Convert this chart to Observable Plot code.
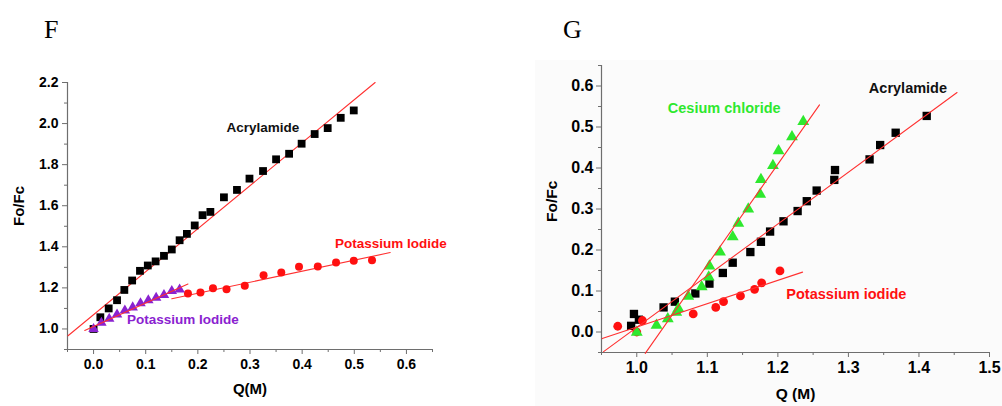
<!DOCTYPE html>
<html>
<head>
<meta charset="utf-8">
<script src="https://cdn.jsdelivr.net/npm/d3@7"></script>
<script src="https://cdn.jsdelivr.net/npm/@observablehq/plot@0.6"></script>
<style>
  html, body { margin: 0; padding: 0; background: #fff; }
  #wrap { position: relative; width: 1002px; height: 406px; overflow: hidden; }
  .panel { position: absolute; top: 0; }
  .tag { position: absolute; font-family: "Liberation Serif", "Times New Roman", serif; font-size: 26px; color: #000; line-height: 1; }
  #bgG { position: absolute; left: 535px; top: 60px; width: 467px; height: 346px; background: #fbfbfb; }
</style>
</head>
<body>
<div id="wrap">
  <div id="bgG"></div>
  <div class="tag" style="left:44px; top:17px;">F</div>
  <div class="tag" style="left:563px; top:17px;">G</div>
</div>
<script>
// ---------- Panel F data ----------
const fAcrylamideQ = [0, 0.013, 0.029, 0.045, 0.059, 0.074, 0.089, 0.104, 0.119, 0.135, 0.15, 0.165, 0.179, 0.194, 0.209, 0.224, 0.25, 0.275, 0.299, 0.325, 0.35, 0.375, 0.399, 0.424, 0.449, 0.474, 0.499];
const fAcrylamideR = [1.0, 1.057, 1.10, 1.14, 1.19, 1.236, 1.283, 1.309, 1.329, 1.356, 1.387, 1.432, 1.463, 1.504, 1.554, 1.57, 1.641, 1.677, 1.732, 1.769, 1.826, 1.853, 1.902, 1.949, 1.978, 2.028, 2.064];
const fKIQ = [0.181, 0.205, 0.229, 0.255, 0.29, 0.326, 0.36, 0.394, 0.43, 0.465, 0.499, 0.534];
const fKIR = [1.173, 1.177, 1.198, 1.193, 1.211, 1.261, 1.275, 1.303, 1.304, 1.324, 1.332, 1.334];
const fKI2Q = [0, 0.015, 0.03, 0.045, 0.06, 0.075, 0.09, 0.105, 0.12, 0.135, 0.15, 0.165];
const fKI2R = [1.0, 1.03, 1.05, 1.07, 1.09, 1.105, 1.125, 1.14, 1.152, 1.165, 1.185, 1.192];
// fitted lines: [startQ, startR, endQ, endR]
const fFitAcrylamide = [-0.049, 0.967, 0.54, 2.2];
const fFitKI = [0.15, 1.147, 0.569, 1.372];
const fFitKI2 = [-0.017, 0.993, 0.181, 1.219];
const fLabels = ["Acrylamide", "Potassium Iodide", "Potassium Iodide"];
const fLabelQ = [0.255, 0.463, 0.064];
const fLabelR = [1.98, 1.414, 1.045];
const fXTicks = [0.0, 0.1, 0.2, 0.3, 0.4, 0.5, 0.6];
const fXMinor = [-0.05, 0.05, 0.15, 0.25, 0.35, 0.45, 0.55, 0.65];
const fYTicks = [1.0, 1.2, 1.4, 1.6, 1.8, 2.0, 2.2];
const fYMinor = [0.9, 1.1, 1.3, 1.5, 1.7, 1.9, 2.1];

// ---------- Panel G data ----------
const gAcrylamideQ = [0.992, 0.996, 1.003, 1.038, 1.054, 1.083, 1.103, 1.122, 1.136, 1.161, 1.176, 1.189, 1.208, 1.228, 1.241, 1.255, 1.28, 1.281, 1.330, 1.345, 1.367, 1.411];
const gAcrylamideR = [0.015, 0.044, 0.03, 0.06, 0.074, 0.094, 0.118, 0.144, 0.169, 0.195, 0.22, 0.245, 0.27, 0.295, 0.319, 0.345, 0.371, 0.395, 0.421, 0.456, 0.486, 0.527];
const gKIQ = [0.973, 1.0, 1.008, 1.080, 1.112, 1.123, 1.147, 1.167, 1.177, 1.203];
const gKIR = [0.014, 0.0, 0.028, 0.044, 0.06, 0.074, 0.088, 0.104, 0.12, 0.149];
const gCsClQ = [1.0, 1.028, 1.044, 1.056, 1.059, 1.073, 1.092, 1.102, 1.103, 1.118, 1.136, 1.144, 1.158, 1.175, 1.176, 1.193, 1.201, 1.22, 1.236];
const gCsClR = [-0.001, 0.016, 0.032, 0.048, 0.057, 0.087, 0.11, 0.134, 0.161, 0.195, 0.232, 0.265, 0.3, 0.336, 0.372, 0.406, 0.442, 0.476, 0.513];
const gFitAcrylamide = [0.953, -0.048, 1.454, 0.584];
const gFitCsCl = [1.012, -0.052, 1.259, 0.554];
const gFitKI = [0.951, -0.016, 1.235, 0.146];
const gLabels = ["Cesium chloride", "Acrylamide", "Potassium iodide"];
const gLabelQ = [1.044, 1.329, 1.212];
const gLabelR = [0.545, 0.595, 0.093];
const gXTicks = [1.0, 1.1, 1.2, 1.3, 1.4, 1.5];
const gXMinor = [0.95, 1.05, 1.15, 1.25, 1.35, 1.45];
const gYTicks = [0.0, 0.1, 0.2, 0.3, 0.4, 0.5, 0.6];
const gYMinor = [-0.05, 0.05, 0.15, 0.25, 0.35, 0.45, 0.55, 0.65];

const AXIS = "#6e6e6e";
const LINE = "#ff3030";
const RED = "#ff1010";
const GREEN = "#2ee82e";
const PURPLE = "#8a22d0";

const pts = (qs, rs) => qs.map((q, i) => ({q, r: rs[i]}));
const seg = (f) => [{q: f[0], r: f[1]}, {q: f[2], r: f[3]}];
const lab = (labels, qs, rs, colors) => labels.map((t, i) => ({t, q: qs[i], r: rs[i], c: colors[i]}));

function panel(o) {
  return Plot.plot({
    width: 501,
    height: 406,
    marginLeft: o.ml, marginRight: o.mr, marginTop: o.mt, marginBottom: o.mb,
    style: {fontFamily: "'Liberation Sans', Arial, sans-serif", fontWeight: "bold", fontSize: o.tickFont + "px", background: "transparent", overflow: "visible"},
    x: {domain: o.xDomain},
    y: {domain: o.yDomain},
    marks: [
      Plot.ruleY([o.yDomain[0]], {stroke: AXIS, strokeWidth: 1.2}),
      Plot.ruleX([o.xDomain[0]], {stroke: AXIS, strokeWidth: 1.2}),
      Plot.axisX({ticks: o.xTicks, tickSize: 5, tickPadding: o.xPad, tickFormat: d3.format(".1f"), stroke: AXIS, fill: "black", label: null}),
      Plot.axisX({ticks: o.xMinor, tickSize: 3, tickFormat: () => "", stroke: AXIS, label: null}),
      Plot.axisY({ticks: o.yTicks, tickSize: 5, tickPadding: o.yPad, tickFormat: d3.format(".1f"), stroke: AXIS, fill: "black", label: null}),
      Plot.axisY({ticks: o.yMinor, tickSize: 3, tickFormat: () => "", stroke: AXIS, label: null}),
      ...o.marks,
      Plot.text([o.xTitle], {frameAnchor: "bottom", dy: o.xTitleDy, fontSize: o.titleFont, fill: "black"}),
      Plot.text([o.yTitle], {frameAnchor: "left", dx: o.yTitleDx, dy: o.yTitleDy, rotate: -90, fontSize: o.titleFont, fill: "black"})
    ]
  });
}

const figF = panel({
  ml: 67, mr: 69, mt: 82, mb: 57,
  xDomain: [-0.05, 0.65], yDomain: [0.9, 2.2],
  xTicks: fXTicks, xMinor: fXMinor, yTicks: fYTicks, yMinor: fYMinor,
  tickFont: 14, titleFont: 15, xPad: 5, yPad: 4,
  xTitle: "Q(M)", xTitleDy: 44, yTitle: "Fo/Fc", yTitleDx: -48, yTitleDy: 10,
  marks: [
    Plot.line(seg(fFitAcrylamide), {x: "q", y: "r", stroke: LINE, strokeWidth: 1.1}),
    Plot.line(seg(fFitKI), {x: "q", y: "r", stroke: LINE, strokeWidth: 1.1}),
    Plot.dot(pts(fAcrylamideQ, fAcrylamideR), {x: "q", y: "r", symbol: "square", r: 4.4, fill: "#000", stroke: "none"}),
    Plot.dot(pts(fKIQ, fKIR), {x: "q", y: "r", symbol: "circle", r: 4.0, fill: RED, stroke: "none"}),
    Plot.dot(pts(fKI2Q, fKI2R), {x: "q", y: "r", symbol: "triangle", r: 3.9, fill: PURPLE, stroke: "none"}),
    Plot.line(seg(fFitKI2), {x: "q", y: "r", stroke: LINE, strokeWidth: 1.1}),
    Plot.text(lab(fLabels, fLabelQ, fLabelR, ["#111", RED, PURPLE]),
      {x: "q", y: "r", text: "t", fill: "c", textAnchor: "start", fontSize: 13.5})
  ]
});

const figG = panel({
  ml: 100, mr: 13, mt: 65, mb: 54,
  xDomain: [0.95, 1.5], yDomain: [-0.05, 0.65],
  xTicks: gXTicks, xMinor: gXMinor, yTicks: gYTicks, yMinor: gYMinor,
  tickFont: 16, titleFont: 15.5, xPad: 4, yPad: 3,
  xTitle: "Q (M)", xTitleDy: 46, yTitle: "Fo/Fc", yTitleDx: -49, yTitleDy: 13,
  marks: [
    Plot.dot(pts(gAcrylamideQ, gAcrylamideR), {x: "q", y: "r", symbol: "square", r: 4.7, fill: "#000", stroke: "none"}),
    Plot.dot(pts(gKIQ, gKIR), {x: "q", y: "r", symbol: "circle", r: 4.4, fill: RED, stroke: "none"}),
    Plot.dot(pts(gCsClQ, gCsClR), {x: "q", y: "r", symbol: "triangle", r: 4.4, fill: GREEN, stroke: "none"}),
    Plot.line(seg(gFitAcrylamide), {x: "q", y: "r", stroke: LINE, strokeWidth: 1.1}),
    Plot.line(seg(gFitCsCl), {x: "q", y: "r", stroke: LINE, strokeWidth: 1.1}),
    Plot.line(seg(gFitKI), {x: "q", y: "r", stroke: LINE, strokeWidth: 1.1}),
    Plot.text(lab(gLabels, gLabelQ, gLabelR, [GREEN, "#111", RED]),
      {x: "q", y: "r", text: "t", fill: "c", textAnchor: "start", fontSize: 14.5})
  ]
});

figF.classList.add("panel");
figG.classList.add("panel");
figF.style.left = "0px";
figG.style.left = "501px";
const wrap = document.getElementById("wrap");
wrap.appendChild(figF);
wrap.appendChild(figG);
</script>
</body>
</html>
